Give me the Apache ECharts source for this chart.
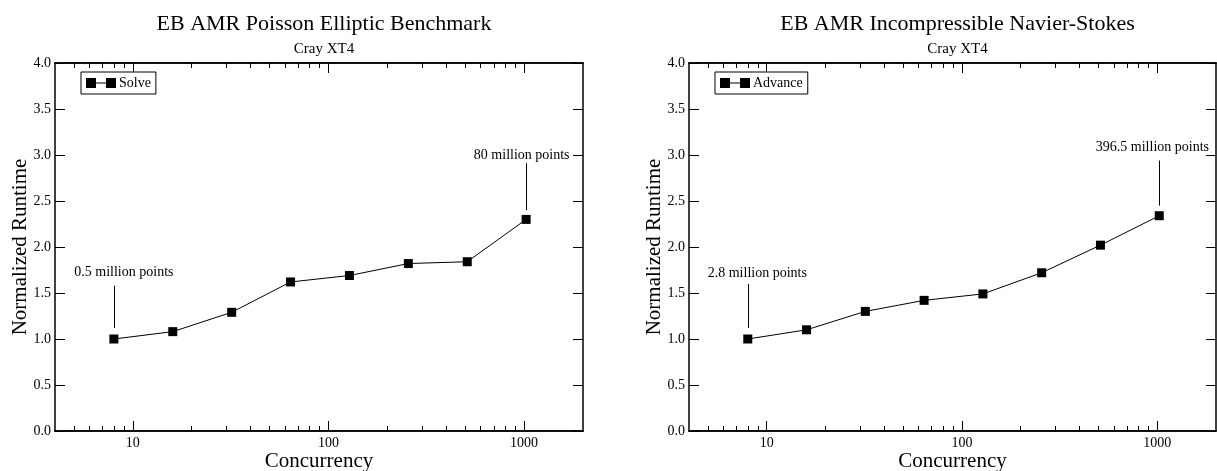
<!DOCTYPE html>
<html>
<head>
<meta charset="utf-8">
<script src="https://cdn.jsdelivr.net/npm/echarts@6/dist/echarts.min.js"></script>
<style>
html,body{margin:0;padding:0;background:#fff;}
#chart{width:1217px;height:471px;}
</style>
</head>
<body>
<div id="chart"></div>
<script>
// ---- data ----
const concurrency = [8, 16, 32, 64, 128, 256, 512, 1024];
const poissonSolve = [1.00, 1.08, 1.29, 1.62, 1.69, 1.82, 1.84, 2.30];
const nsAdvance = [1.00, 1.10, 1.30, 1.42, 1.49, 1.72, 2.02, 2.34];
const majorTicksX = [10, 100, 1000];
const minorTicksX = [5, 6, 7, 8, 9, 20, 30, 40, 50, 60, 70, 80, 90, 200, 300, 400, 500, 600, 700, 800, 900];
const titles = ['EB AMR Poisson Elliptic Benchmark', 'EB AMR Incompressible Navier-Stokes'];
const subtitle = 'Cray XT4';
const seriesNames = ['Solve', 'Advance'];
// annotations: text position [x, y] and leader line [x, yFrom, yTo] in data units
const poissonNotes = [
  {text: '0.5 million points', at: [9.0, 1.72], line: [8, 1.12, 1.58]},
  {text: '80 million points', at: [972, 3.0], line: [1024, 2.40, 2.91]}
];
const nsNotes = [
  {text: '2.8 million points', at: [8.95, 1.71], line: [8, 1.12, 1.60]},
  {text: '396.5 million points', at: [945, 3.08], line: [1024, 2.45, 2.94]}
];

const FONT = '"Liberation Serif", "DejaVu Serif", serif';
const chart = echarts.init(document.getElementById('chart'), null, {renderer: 'canvas'});

const grids = [
  {left: 55, top: 63, width: 528, height: 368, outerBoundsMode: 'none', containLabel: false},
  {left: 689, top: 63, width: 527, height: 368, outerBoundsMode: 'none', containLabel: false}
];
const centers = [55 + 264, 689 + 263.5];

const xAxes = [], yAxes = [], series = [], titleList = [], legends = [];
const datasets = [poissonSolve, nsAdvance];
const notesList = [poissonNotes, nsNotes];

for (let g = 0; g < 2; g++) {
  const common = {type: 'log', logBase: 10, min: 4, max: 2000, gridIndex: g, splitLine: {show: false}, minorTick: {show: false}};
  const axisLine = {show: true, onZero: false, lineStyle: {color: '#000', width: 1.5}};
  // bottom major
  xAxes.push(Object.assign({}, common, {
    position: 'bottom', axisLine,
    name: 'Concurrency', nameLocation: 'middle', nameGap: 20, nameMoveOverlap: false,
    nameTextStyle: {fontFamily: FONT, fontSize: 21, color: '#000'},
    axisTick: {show: true, inside: true, length: 10, lineStyle: {color: '#000', width: 1}, customValues: majorTicksX},
    axisLabel: {show: true, customValues: majorTicksX, fontFamily: FONT, fontSize: 14, color: '#000', margin: 5,
      formatter: v => String(Math.round(v))}
  }));
  // bottom minor
  xAxes.push(Object.assign({}, common, {
    position: 'bottom', axisLine,
    axisTick: {show: true, inside: true, length: 5, lineStyle: {color: '#000', width: 1}, customValues: minorTicksX},
    axisLabel: {show: false}
  }));
  // top major
  xAxes.push(Object.assign({}, common, {
    position: 'top', axisLine,
    axisTick: {show: true, inside: true, length: 10, lineStyle: {color: '#000', width: 1}, customValues: majorTicksX},
    axisLabel: {show: false}
  }));
  // top minor
  xAxes.push(Object.assign({}, common, {
    position: 'top', axisLine,
    axisTick: {show: true, inside: true, length: 5, lineStyle: {color: '#000', width: 1}, customValues: minorTicksX},
    axisLabel: {show: false}
  }));
  const yCommon = {type: 'value', min: 0, max: 4, interval: 0.5, gridIndex: g, splitLine: {show: false},
    axisLine: {show: true, onZero: false, lineStyle: {color: '#000', width: 1.5}},
    axisTick: {show: true, inside: true, length: 10, lineStyle: {color: '#000', width: 1}}};
  yAxes.push(Object.assign({}, yCommon, {
    position: 'left',
    name: 'Normalized Runtime', nameLocation: 'middle', nameGap: 24, nameMoveOverlap: false,
    nameTextStyle: {fontFamily: FONT, fontSize: 21, color: '#000'},
    axisLabel: {show: true, fontFamily: FONT, fontSize: 14, color: '#000', margin: 4, formatter: v => v.toFixed(1)}
  }));
  yAxes.push(Object.assign({}, yCommon, {position: 'right', axisLabel: {show: false}}));

  const notes = notesList[g];
  series.push({
    name: seriesNames[g],
    type: 'line',
    xAxisIndex: g * 4,
    yAxisIndex: g * 2,
    data: concurrency.map((c, i) => [c, datasets[g][i]]),
    symbol: 'rect',
    symbolSize: 9,
    itemStyle: {color: '#000'},
    lineStyle: {color: '#000', width: 1},
    animation: false,
    markLine: {
      silent: true, symbol: 'none', animation: false,
      label: {show: false},
      lineStyle: {color: '#000', width: 1, type: 'solid'},
      data: notes.map(n => [{coord: [n.line[0], n.line[1]]}, {coord: [n.line[0], n.line[2]]}])
    },
    markPoint: {
      silent: true, animation: false,
      symbol: 'circle', symbolSize: 0,
      label: {show: true, position: 'inside', fontFamily: FONT, fontSize: 14, color: '#000',
        formatter: p => p.name},
      data: notes.map(n => ({name: n.text, coord: n.at}))
    }
  });

  titleList.push({
    text: titles[g], left: centers[g], top: 8, textAlign: 'center',
    textStyle: {fontFamily: FONT, fontSize: 22, fontWeight: 'normal', color: '#000'}
  });
  titleList.push({
    text: subtitle, left: centers[g], top: 37, textAlign: 'center',
    textStyle: {fontFamily: FONT, fontSize: 15, fontWeight: 'normal', color: '#000'}
  });
  legends.push({
    data: [seriesNames[g]],
    left: g === 0 ? 81 : 715, top: 72,
    orient: 'vertical',
    icon: 'path://M0,0h10v10h-10z M20,0h10v10h-10z M10,4.5h10v1h-10z',
    itemWidth: 30, itemHeight: 10, itemGap: 0,
    padding: [4, 5, 4, 5],
    borderColor: '#000', borderWidth: 1, backgroundColor: '#fff',
    selectedMode: false,
    textStyle: {fontFamily: FONT, fontSize: 14, color: '#000', padding: [0, 0, 0, -2]},
    itemStyle: {color: '#000'}
  });
}

chart.setOption({
  animation: false,
  backgroundColor: '#fff',
  title: titleList,
  legend: legends,
  grid: grids,
  xAxis: xAxes,
  yAxis: yAxes,
  series: series
});
</script>
</body>
</html>
